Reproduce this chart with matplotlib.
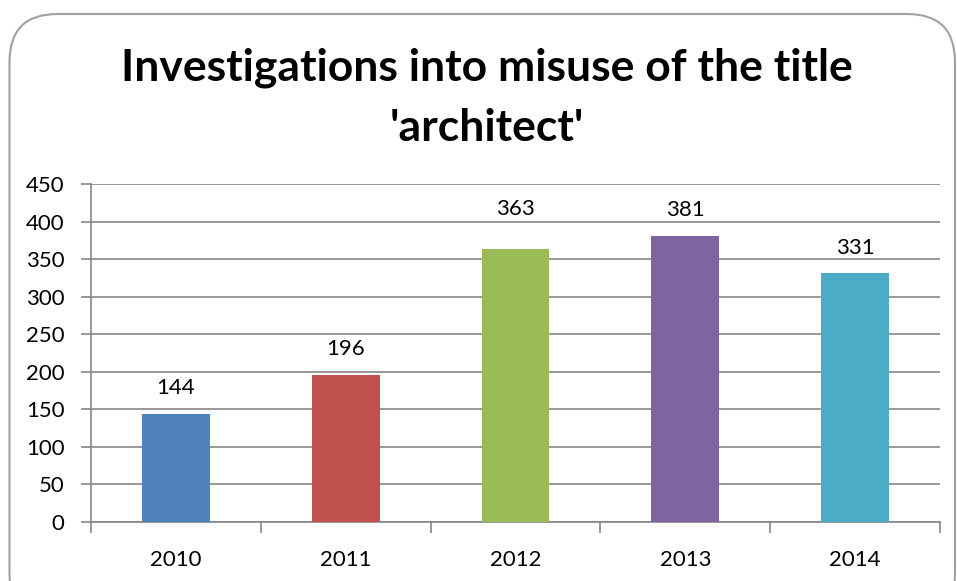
import matplotlib
matplotlib.use("Agg")
from matplotlib import pyplot as plt, patches
import numpy as np

plt.rcParams["font.family"] = ["Lato", "DejaVu Sans"]

years = ["2010", "2011", "2012", "2013", "2014"]
investigations = [144, 196, 363, 381, 331]
bar_colors = ["#4F81BD", "#C0504D", "#9BBB59", "#8064A2", "#4BACC6"]
y_ticks = [0, 50, 100, 150, 200, 250, 300, 350, 400, 450]

# label gap above each bar, in points (2012's label was lifted clear of 2013's)
label_gap = [14, 14, 25, 14, 14]

W, H = 957, 581
fig = plt.figure(figsize=(W / 100, H / 100), dpi=100)

# rounded chart border, running off the bottom edge
frame = patches.FancyBboxPatch((9.5 / W, -40 / H), (W - 9.5 - 2) / W, (H - 14 + 40) / H,
                               boxstyle="round,pad=0,rounding_size=0.05",
                               transform=fig.transFigure, facecolor="white",
                               edgecolor="#A0A0A0", linewidth=1.5, mutation_aspect=W / H,
                               zorder=-5)
fig.patches.append(frame)

ax = fig.add_axes([91 / W, 1 - 522 / H, (940 - 91) / W, (522 - 184) / H])
ax.set_zorder(2)
ax.patch.set_alpha(0)
x = np.arange(len(years))
ax.bar(x, investigations, width=0.4, color=bar_colors, zorder=3)

for xi, v, gap in zip(x, investigations, label_gap):
    ax.annotate(str(v), (xi, v), xytext=(0, gap), textcoords="offset points",
                ha="center", va="baseline", fontsize=16)

ax.set_xlim(-0.5, len(years) - 0.5)
ax.set_ylim(0, 450)
ax.set_yticks(y_ticks)
ax.set_yticklabels([str(t) for t in y_ticks], fontsize=16)
ax.yaxis.grid(True, color="#868686", linewidth=1.2, zorder=0)

# category ticks sit on the boundaries between years
ax.set_xticks(np.arange(len(years) + 1) - 0.5)
ax.set_xticklabels([])
ax.set_xticks(x, minor=True)
ax.set_xticklabels(years, minor=True, fontsize=16)
ax.tick_params(axis="x", which="major", length=8, color="#868686", width=1.2)
ax.tick_params(axis="x", which="minor", length=0, pad=20)
ax.tick_params(axis="y", length=7, color="#868686", width=1.2, pad=12)

for side in ["top", "right"]:
    ax.spines[side].set_visible(False)
for side in ["left", "bottom"]:
    ax.spines[side].set_color("#868686")
    ax.spines[side].set_linewidth(1.2)

fig.text(487 / W, 1 - 68 / H, "Investigations into misuse of the title",
         ha="center", va="center", fontsize=32, fontweight="bold")
fig.text(487 / W, 1 - 128 / H, "'architect'",
         ha="center", va="center", fontsize=32, fontweight="bold")

fig.savefig("out.png", dpi=100)
